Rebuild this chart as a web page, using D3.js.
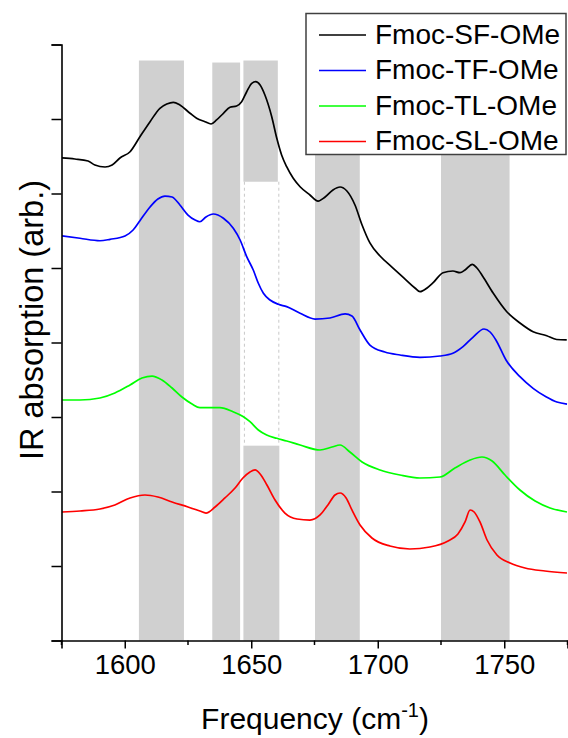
<!DOCTYPE html>
<html>
<head>
<meta charset="utf-8">
<script src="https://cdn.jsdelivr.net/npm/d3@7"></script>
<style>
  html, body { margin: 0; padding: 0; background: #fff; }
  svg { display: block; font-family: Arial, "Liberation Sans", sans-serif; }
</style>
</head>
<body>
<svg id="chart" width="568" height="738"></svg>
<script>
// IR spectra of four Fmoc dipeptide methyl esters (vertically offset, arbitrary units)
const seriesNames = ["Fmoc-SF-OMe", "Fmoc-TF-OMe", "Fmoc-TL-OMe", "Fmoc-SL-OMe"];
const seriesColors = ["#000000", "#0000ff", "#00ff00", "#ff0000"];

const sfFreq = [1575.2,1580.3,1585.5,1588.2,1592.2,1595.0,1598.1,1602.1,1606.0,1610.0,1613.9,1616.6,1619.2,1621.8,1625.8,1628.4,1631.7,1634.1,1636.3,1639.0,1641.6,1644.2,1646.2,1648.2,1650.2,1651.8,1653.5,1655.4,1658.1,1660.1,1662.0,1664.0,1666.6,1669.3,1673.2,1676.4,1679.2,1682.3,1685.1,1687.8,1691.0,1693.8,1696.9,1700.9,1705.6,1710.8,1714.7,1716.7,1719.5,1721.8,1725.8,1729.7,1732.5,1734.5,1737.4,1739.2,1741.6,1745.6,1751.0,1756.2,1761.4,1766.8,1770.7,1774.7];
const sfAbs = [6.477,6.463,6.436,6.383,6.356,6.383,6.477,6.561,6.762,6.964,7.144,7.201,7.224,7.188,7.077,7.010,6.964,6.933,6.987,7.077,7.157,7.174,7.232,7.366,7.479,7.501,7.456,7.322,7.031,6.741,6.517,6.360,6.204,6.091,5.980,5.899,5.953,6.047,6.087,6.034,5.846,5.577,5.336,5.161,5.013,4.852,4.732,4.682,4.732,4.799,4.937,4.960,4.937,4.973,5.050,5.000,4.883,4.664,4.413,4.262,4.145,4.091,4.040,4.034];

const tfFreq = [1575.2,1582.3,1590.2,1594.2,1600.1,1603.3,1606.0,1610.0,1613.1,1615.9,1618.7,1621.8,1625.0,1627.8,1629.7,1632.1,1635.0,1639.0,1642.9,1645.6,1648.2,1650.8,1652.8,1654.8,1657.4,1660.7,1664.0,1669.3,1675.2,1681.1,1687.1,1689.8,1693.0,1696.9,1702.8,1708.8,1716.7,1724.6,1729.7,1733.7,1737.6,1742.0,1744.4,1746.7,1750.7,1756.2,1761.4,1766.5,1770.8,1774.8];
const tfAbs = [5.430,5.399,5.366,5.385,5.430,5.510,5.635,5.819,5.926,5.966,5.953,5.846,5.711,5.644,5.621,5.685,5.725,5.667,5.533,5.376,5.152,4.973,4.795,4.660,4.570,4.513,4.481,4.392,4.315,4.329,4.383,4.356,4.168,3.966,3.872,3.832,3.801,3.819,3.855,3.944,4.070,4.181,4.141,4.034,3.765,3.541,3.385,3.272,3.201,3.174];

const tlFreq = [1575.2,1582.3,1590.2,1596.1,1602.1,1606.8,1610.8,1614.7,1618.7,1622.6,1626.6,1629.7,1637.6,1642.8,1646.9,1649.5,1652.8,1656.1,1660.1,1664.0,1669.3,1677.2,1681.9,1685.1,1689.0,1693.8,1700.9,1708.8,1716.7,1724.6,1730.5,1736.5,1741.2,1745.2,1750.3,1756.2,1762.2,1768.1,1774.8];
const tlAbs = [3.228,3.228,3.255,3.322,3.430,3.523,3.550,3.497,3.389,3.268,3.174,3.125,3.125,3.071,3.004,2.937,2.826,2.758,2.714,2.678,2.624,2.557,2.597,2.624,2.530,2.396,2.289,2.221,2.181,2.195,2.315,2.423,2.463,2.409,2.221,2.020,1.872,1.779,1.725];

const slFreq = [1575.2,1582.3,1590.2,1596.1,1602.1,1608.0,1613.1,1618.7,1625.0,1629.7,1632.1,1635.7,1639.6,1643.6,1646.7,1649.5,1651.5,1653.5,1656.2,1659.4,1663.3,1668.1,1673.2,1677.2,1680.3,1683.1,1685.1,1687.5,1689.8,1693.0,1697.7,1704.8,1712.7,1720.6,1727.8,1731.7,1734.5,1736.5,1738.1,1740.4,1743.2,1747.1,1752.3,1758.2,1766.1,1774.8];
const slAbs = [1.725,1.738,1.765,1.819,1.913,1.953,1.926,1.859,1.792,1.738,1.711,1.792,1.913,2.047,2.181,2.262,2.289,2.235,2.087,1.886,1.711,1.631,1.617,1.685,1.819,1.953,1.980,1.913,1.752,1.550,1.376,1.268,1.228,1.255,1.336,1.430,1.591,1.752,1.725,1.591,1.349,1.148,1.040,0.973,0.933,0.906];

// Highlighted frequency bands (grey shading)
const bandLo  = [1605.6, 1634.6, 1646.9, 1646.9, 1675.2, 1725.0];
const bandHi  = [1623.4, 1645.6, 1660.5, 1661.1, 1692.9, 1752.1];
const bandBot = [0, 0, 6.158, 0, 0, 0];
const bandTop = [7.785, 7.758, 7.785, 2.615, 7.785, 7.785];

// Dashed guides linking the split band
const guideFreq = [1647.3, 1660.9];
const guideFrom = 6.158;
const guideTo = 2.615;

const xMajorTicks = [1600, 1650, 1700, 1750];
const xMinorTicks = [1575, 1625, 1675, 1725, 1775];
const yTicks = [0, 1, 2, 3, 4, 5, 6, 7, 8];

const svg = d3.select("#chart");
const x = d3.scaleLinear().domain([1575, 1775]).range([61.5, 567.5]);
const y = d3.scaleLinear().domain([0, 8]).range([640.5, 44.5]);

// bands
svg.append("g").selectAll("rect")
  .data(bandLo.map((lo, i) => ({lo, hi: bandHi[i], b: bandBot[i], t: bandTop[i]})))
  .join("rect")
  .attr("x", d => x(d.lo))
  .attr("width", d => x(d.hi) - x(d.lo))
  .attr("y", d => y(d.t))
  .attr("height", d => y(d.b) - y(d.t))
  .attr("fill", "#d0d0d0");

svg.append("g").selectAll("line")
  .data(guideFreq)
  .join("line")
  .attr("x1", d => x(d)).attr("x2", d => x(d))
  .attr("y1", y(guideFrom)).attr("y2", y(guideTo))
  .attr("stroke", "#c8c8c8")
  .attr("stroke-width", 1)
  .attr("stroke-dasharray", "3,3");

// spectra
const spectra = [
  [sfFreq, sfAbs], [tfFreq, tfAbs], [tlFreq, tlAbs], [slFreq, slAbs]
];
const line = d3.line()
  .x(d => x(d[0])).y(d => y(d[1]))
  .curve(d3.curveMonotoneX);

svg.append("g").selectAll("path")
  .data(spectra.map((s, i) => ({pts: s[0].map((f, j) => [f, s[1][j]]), color: seriesColors[i]})))
  .join("path")
  .attr("d", d => line(d.pts))
  .attr("fill", "none")
  .attr("stroke", d => d.color)
  .attr("stroke-width", 1.7)
  .attr("stroke-linejoin", "round");

// x axis
const xAxis = svg.append("g").attr("transform", "translate(0,640.5)");
xAxis.call(d3.axisBottom(x).tickValues(xMajorTicks).tickSize(8).tickPadding(6).tickFormat(d3.format("d")))
  .call(g => g.select(".domain").attr("stroke-width", 1.6))
  .call(g => g.selectAll(".tick line").attr("stroke-width", 1.5))
  .call(g => g.selectAll(".tick text").attr("font-size", 27.5).attr("font-family", "Arial, 'Liberation Sans', sans-serif").attr("fill", "#000"));
xAxis.selectAll(".minor")
  .data(xMinorTicks)
  .join("line")
  .attr("class", "minor")
  .attr("x1", d => x(d)).attr("x2", d => x(d))
  .attr("y1", 0).attr("y2", 4.5)
  .attr("stroke", "#000").attr("stroke-width", 1.5);

// y axis (no labels)
svg.append("g").attr("transform", "translate(61.5,0)")
  .call(d3.axisLeft(y).tickValues(yTicks).tickSize(10).tickFormat(""))
  .call(g => g.select(".domain").attr("stroke-width", 1.6))
  .call(g => g.selectAll(".tick line").attr("stroke-width", 1.5));

// axis titles
const xt = svg.append("text")
  .attr("x", 315).attr("y", 729)
  .attr("text-anchor", "middle")
  .attr("font-size", 30);
xt.append("tspan").text("Frequency (cm");
xt.append("tspan").attr("font-size", 20).attr("dy", -12).text("-1");
xt.append("tspan").attr("dy", 12).text(")");

svg.append("text")
  .attr("transform", "translate(43,320) rotate(-90)")
  .attr("text-anchor", "middle")
  .attr("font-size", 32.5)
  .text("IR absorption (arb.)");

// legend
const legend = svg.append("g");
legend.append("rect")
  .attr("x", 306).attr("y", 13.5)
  .attr("width", 260).attr("height", 141)
  .attr("fill", "#fff")
  .attr("stroke", "#404040")
  .attr("stroke-width", 1.5);
const rows = legend.selectAll("g.row")
  .data(seriesNames)
  .join("g")
  .attr("class", "row")
  .attr("transform", (d, i) => `translate(0,${35 + i * 35.5})`);
rows.append("line")
  .attr("x1", 319).attr("x2", 366)
  .attr("y1", 0).attr("y2", 0)
  .attr("stroke", (d, i) => seriesColors[i])
  .attr("stroke-width", 1.5);
rows.append("text")
  .attr("x", 375).attr("y", 8.5)
  .attr("font-size", 28)
  .text(d => d);
</script>
</body>
</html>
